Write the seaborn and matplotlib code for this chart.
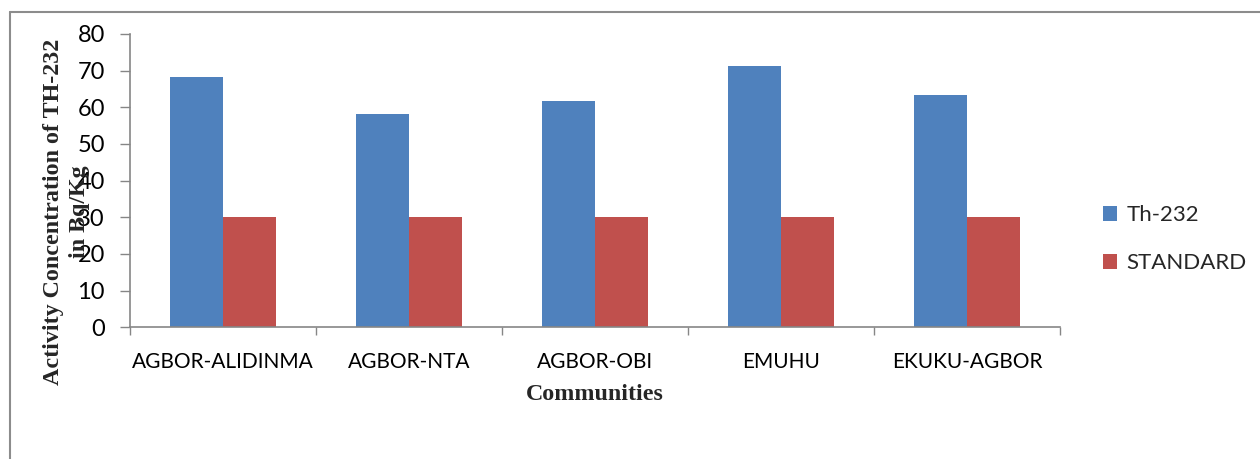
import matplotlib
matplotlib.use("Agg")
import matplotlib.pyplot as plt
import seaborn as sns
import pandas as pd
from matplotlib.lines import Line2D
from matplotlib.patches import Patch

communities = ["AGBOR-ALIDINMA", "AGBOR-NTA", "AGBOR-OBI", "EMUHU", "EKUKU-AGBOR"]
th232 = [68.3, 58.1, 61.8, 71.2, 63.4]
standard = [30, 30, 30, 30, 30]
series_names = ["Th-232", "STANDARD"]
colors = ["#4F81BD", "#C0504D"]
yticks = [0, 10, 20, 30, 40, 50, 60, 70, 80]

df = pd.DataFrame({
    "Community": communities * 2,
    "Series": [series_names[0]] * len(communities) + [series_names[1]] * len(communities),
    "Value": th232 + standard,
})

sns.set_theme(style="white")
plt.rcParams["font.family"] = ["Lato", "DejaVu Sans"]

W, H = 1260, 459
fig = plt.figure(figsize=(W / 100, H / 100), dpi=100)
ax = fig.add_axes([130 / W, 1 - 327.3 / H, (1060 - 130) / W, (327.3 - 34) / H])

sns.barplot(data=df, x="Community", y="Value", hue="Series", order=communities,
            hue_order=series_names, palette=colors, width=0.571, gap=0,
            saturation=1, ax=ax, legend=False, linewidth=0)

ax.set_xlim(-0.5, len(communities) - 0.5)
ax.set_ylim(0, 80)
ax.set_yticks(yticks)
ax.set_yticklabels([str(v) for v in yticks], fontsize=17)
ax.tick_params(axis="y", direction="out", length=7, width=1, color="#868686",
               pad=11, left=True, labelcolor="black")
ax.set_xticks(range(len(communities)))
ax.set_xticklabels(communities, fontsize=15)
ax.tick_params(axis="x", which="major", length=0, pad=18, labelcolor="black")
ax.set_xticks([i - 0.5 for i in range(len(communities) + 1)], minor=True)
ax.tick_params(axis="x", which="minor", direction="out", length=6, width=1,
               color="#868686", bottom=True)
for s in ["top", "right"]:
    ax.spines[s].set_visible(False)
for s in ["left", "bottom"]:
    ax.spines[s].set_color("#868686")
    ax.spines[s].set_linewidth(1.2)
ax.set_xlabel("")
ax.set_ylabel("")

fig.text(595 / W, 1 - 395 / H, "Communities", ha="center", va="center",
         fontsize=17.3, fontweight="bold", family="Liberation Serif")
fig.text(66.5 / W, 1 - 212 / H, "Activity Concentration of TH-232\nin Bq/Kg",
         ha="center", va="center", rotation=90, fontsize=17.3, fontweight="bold",
         family="Liberation Serif", multialignment="center", linespacing=1.28)

handles = [Patch(facecolor=c, edgecolor="none") for c in colors]
fig.legend(handles, series_names, loc="center left",
           bbox_to_anchor=(1103 / W, 1 - 239 / H), frameon=False, fontsize=16,
           handlelength=0.65, handleheight=0.65, handletextpad=0.4,
           labelspacing=1.25, borderaxespad=0, borderpad=0)

fig.add_artist(Line2D([10 / W, 10 / W], [0, 1 - 12 / H], color="#8c8c8c", lw=1.5,
                      transform=fig.transFigure))
fig.add_artist(Line2D([10 / W, 1], [1 - 12 / H, 1 - 12 / H], color="#8c8c8c", lw=1.5,
                      transform=fig.transFigure))

fig.savefig("out.png", dpi=100)
